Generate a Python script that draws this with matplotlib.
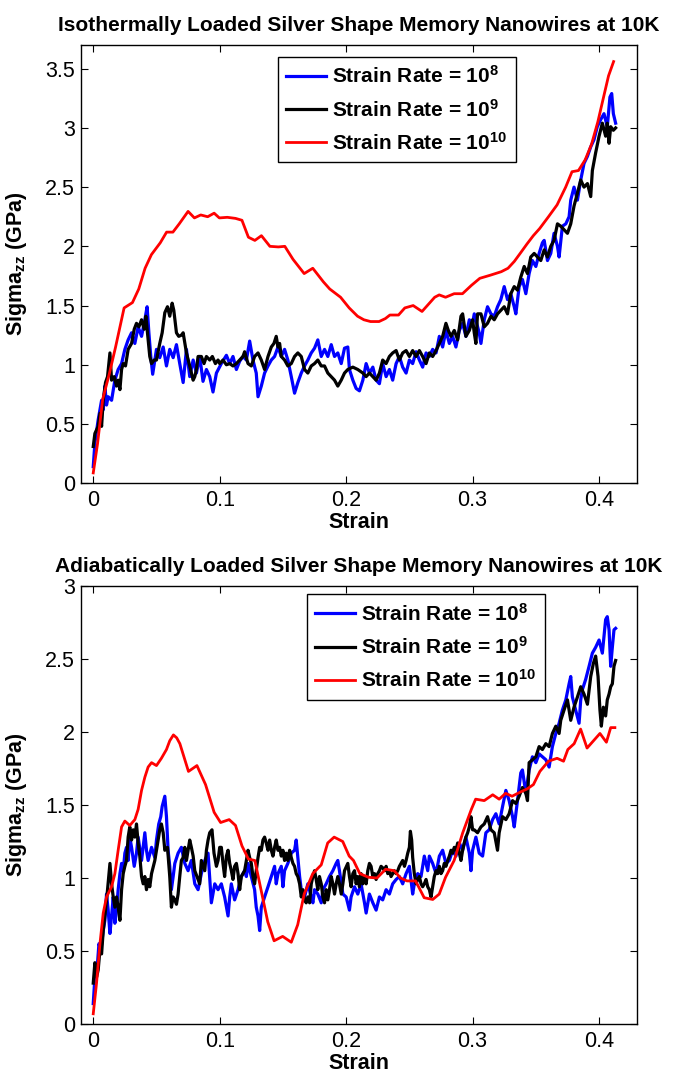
import matplotlib
matplotlib.use("Agg")
import matplotlib.pyplot as plt

plt.rcParams["font.family"] = ["Liberation Sans", "DejaVu Sans"]
plt.rcParams["mathtext.fontset"] = "custom"
plt.rcParams["mathtext.bf"] = "Liberation Sans:bold"
plt.rcParams["mathtext.rm"] = "Liberation Sans:bold"
plt.rcParams["mathtext.default"] = "bf"

# ---- isothermal loading (top panel) ----
iso_strain_1e8 = [0.0, 0.0013, 0.0039, 0.0066, 0.0079, 0.0092, 0.0105, 0.0118, 0.0145, 0.0171, 0.0197, 0.0224,
                  0.025, 0.0276, 0.0303, 0.0329, 0.0355, 0.0382, 0.0408, 0.0426, 0.044, 0.0455, 0.047, 0.05,
                  0.0526, 0.0553, 0.0579, 0.0605, 0.0632, 0.0658, 0.0684, 0.0711, 0.0737, 0.0763, 0.079,
                  0.0816, 0.0842, 0.0868, 0.0895, 0.0921, 0.0947, 0.0974, 0.1013, 0.1053, 0.1079, 0.1105,
                  0.1132, 0.1158, 0.1184, 0.1211, 0.1237, 0.1263, 0.1289, 0.1303, 0.1329, 0.1355, 0.1382,
                  0.1408, 0.1434, 0.1461, 0.1487, 0.1513, 0.1539, 0.1566, 0.1592, 0.1618, 0.1645, 0.1671,
                  0.1697, 0.1724, 0.175, 0.1776, 0.1803, 0.1829, 0.1855, 0.1882, 0.1908, 0.1934, 0.1961,
                  0.1987, 0.2013, 0.2026, 0.2053, 0.2079, 0.2105, 0.2132, 0.2158, 0.2184, 0.2211, 0.2237,
                  0.2263, 0.2289, 0.2316, 0.2342, 0.2368, 0.2395, 0.2421, 0.2447, 0.2474, 0.25, 0.2526,
                  0.2553, 0.2579, 0.2605, 0.2632, 0.2658, 0.2684, 0.2711, 0.2737, 0.2763, 0.2789, 0.2816,
                  0.2842, 0.2868, 0.2895, 0.2921, 0.2947, 0.2974, 0.3, 0.3013, 0.3052, 0.3066, 0.3092,
                  0.3118, 0.3145, 0.3171, 0.3197, 0.3223, 0.325, 0.3276, 0.3302, 0.3329, 0.3342, 0.3368,
                  0.3394, 0.3421, 0.3447, 0.3473, 0.35, 0.3526, 0.3552, 0.3566, 0.3592, 0.3618, 0.3644,
                  0.3671, 0.3684, 0.371, 0.3737, 0.3763, 0.3776, 0.3802, 0.3829, 0.3855, 0.3881, 0.3908,
                  0.3934, 0.396, 0.3986, 0.4013, 0.4039, 0.4065, 0.4086, 0.41, 0.4113, 0.4131]
iso_sigma_1e8 = [0.14, 0.34, 0.535, 0.70, 0.62, 0.82, 0.66, 0.73, 0.70, 0.87, 0.96, 1.01,
                 1.13, 1.21, 1.27, 1.18, 1.32, 1.24, 1.38, 1.49, 1.27, 1.07, 0.92, 1.13,
                 1.06, 1.15, 0.99, 1.13, 1.06, 1.17, 1.01, 0.85, 1.13, 0.90, 1.04,
                 0.93, 1.07, 0.86, 0.96, 0.90, 0.77, 0.93, 1.01, 1.08, 1.01, 1.07,
                 0.96, 1.03, 1.07, 1.04, 1.20, 1.04, 0.93, 0.73, 0.82, 0.93, 0.99,
                 1.04, 1.07, 1.15, 1.07, 1.13, 1.04, 0.90, 0.76, 0.85, 0.93, 0.99,
                 1.04, 1.10, 1.14, 1.21, 1.07, 1.13, 1.07, 1.17, 1.07, 1.10, 1.01,
                 1.14, 1.15, 0.96, 0.87, 0.80, 0.78, 0.87, 1.01, 0.93, 0.98, 0.87,
                 0.84, 1.01, 0.90, 0.96, 0.87, 1.01, 1.07, 0.98, 0.93, 1.04, 1.01,
                 1.11, 1.04, 0.98, 1.10, 1.07, 1.13, 1.10, 1.24, 1.15, 1.29, 1.18,
                 1.24, 1.15, 1.29, 1.35, 1.24, 1.38, 1.35, 1.43, 1.27, 1.18, 1.38,
                 1.49, 1.43, 1.41, 1.49, 1.55, 1.66, 1.55, 1.60, 1.49, 1.43, 1.66,
                 1.72, 1.60, 1.77, 1.88, 1.83, 1.94, 2.03, 2.05, 1.88, 1.94, 2.11,
                 2.0, 1.91, 2.17, 2.19, 2.25, 2.39, 2.50, 2.39, 2.56, 2.70, 2.76,
                 2.84, 2.90, 3.01, 3.07, 3.12, 3.01, 3.26, 3.29, 3.12, 3.04]

iso_strain_1e9 = [0.0, 0.0013, 0.0039, 0.0053, 0.0066, 0.0079, 0.0097, 0.0113, 0.0132, 0.0145, 0.0166, 0.0184,
                  0.0197, 0.0211, 0.0224, 0.0237, 0.0255, 0.0276, 0.0303, 0.0324, 0.0342, 0.0361, 0.0382,
                  0.0403, 0.0416, 0.0434, 0.0447, 0.0461, 0.0482, 0.05, 0.0526, 0.0545, 0.0566, 0.0587,
                  0.0605, 0.0624, 0.0637, 0.0658, 0.0676, 0.0697, 0.0711, 0.0737, 0.0763, 0.079, 0.0803,
                  0.0816, 0.0829, 0.0855, 0.0876, 0.0895, 0.0921, 0.0942, 0.0966, 0.0987, 0.1, 0.1026,
                  0.1053, 0.1079, 0.1105, 0.1132, 0.1158, 0.1184, 0.1197, 0.1224, 0.125, 0.1276, 0.1303,
                  0.1329, 0.1355, 0.1382, 0.1408, 0.1429, 0.1447, 0.1461, 0.1474, 0.1487, 0.1513, 0.1539,
                  0.1566, 0.1592, 0.1618, 0.1645, 0.1671, 0.1697, 0.1724, 0.175, 0.1776, 0.1803, 0.1829,
                  0.1855, 0.1882, 0.1908, 0.1934, 0.1961, 0.1987, 0.2013, 0.2053, 0.2092, 0.2132, 0.2158,
                  0.2184, 0.2211, 0.2237, 0.2263, 0.2289, 0.2316, 0.2342, 0.2368, 0.2395, 0.2421, 0.2447,
                  0.2474, 0.25, 0.2526, 0.2553, 0.2579, 0.2605, 0.2632, 0.2658, 0.2684, 0.2711, 0.2737,
                  0.2763, 0.2789, 0.2808, 0.2829, 0.2855, 0.2882, 0.2908, 0.2921, 0.2947, 0.2974, 0.3,
                  0.3013, 0.3026, 0.3039, 0.3066, 0.3092, 0.3118, 0.3145, 0.3171, 0.3197, 0.3223, 0.325,
                  0.3276, 0.3302, 0.3329, 0.3355, 0.3381, 0.3408, 0.3434, 0.346, 0.3487, 0.3513, 0.3539,
                  0.3566, 0.3592, 0.3618, 0.3644, 0.3671, 0.3697, 0.3723, 0.375, 0.3776, 0.3802, 0.3829,
                  0.3855, 0.3881, 0.3908, 0.3934, 0.3947, 0.3973, 0.4, 0.4026, 0.4052, 0.4065, 0.4079,
                  0.4092, 0.4113, 0.4131]
iso_sigma_1e9 = [0.31, 0.42, 0.48, 0.59, 0.48, 0.70, 0.85, 0.90, 1.10, 0.87, 0.90, 0.82,
                 0.87, 0.79, 0.96, 1.01, 0.99, 1.13, 1.18, 1.30, 1.35, 1.32, 1.38,
                 1.30, 1.41, 1.21, 1.07, 1.01, 1.04, 1.04, 1.18, 1.27, 1.44, 1.49,
                 1.41, 1.52, 1.46, 1.27, 1.24, 1.25, 1.27, 1.10, 0.99, 0.87, 0.90,
                 0.96, 1.07, 1.07, 1.01, 1.07, 1.04, 1.07, 1.01, 1.04, 1.01, 1.04,
                 1.00, 1.01, 0.99, 1.01, 1.04, 1.07, 1.11, 1.01, 0.99, 1.07, 1.10,
                 1.04, 0.96, 1.07, 1.15, 1.18, 1.24, 1.15, 1.18, 1.07, 1.04, 0.99,
                 1.01, 1.07, 1.10, 1.07, 0.96, 0.93, 0.99, 1.01, 1.04, 0.99, 0.99,
                 0.93, 0.90, 0.87, 0.82, 0.87, 0.93, 0.96, 0.98, 0.96, 0.93, 0.90,
                 0.93, 0.90, 0.87, 0.93, 1.04, 1.01, 1.07, 1.10, 1.12, 1.04, 1.10,
                 1.12, 1.07, 1.12, 1.07, 1.12, 1.07, 1.01, 1.10, 1.07, 1.12, 1.18,
                 1.24, 1.35, 1.29, 1.24, 1.29, 1.21, 1.41, 1.43, 1.24, 1.29, 1.38,
                 1.27, 1.18, 1.43, 1.43, 1.32, 1.35, 1.41, 1.38, 1.43, 1.46, 1.49,
                 1.43, 1.60, 1.66, 1.63, 1.74, 1.83, 1.77, 1.91, 1.94, 1.91, 1.88,
                 1.97, 1.91, 2.0, 2.05, 2.19, 2.17, 2.14, 2.11, 2.19, 2.34, 2.45,
                 2.56, 2.50, 2.53, 2.42, 2.64, 2.79, 2.93, 3.04, 2.93, 3.04, 2.87,
                 3.01, 2.98, 3.0]

iso_strain_1e10 = [0.0, 0.0034, 0.0075, 0.0125, 0.0176, 0.0244, 0.031, 0.036, 0.041, 0.046, 0.053, 0.058,
                   0.063, 0.068, 0.075, 0.080, 0.085, 0.0905, 0.0956, 0.0997, 0.106, 0.1125, 0.1176, 0.1227,
                   0.1278, 0.133, 0.1397, 0.1464, 0.1515, 0.158, 0.1668, 0.1736, 0.182, 0.187, 0.1956,
                   0.2024, 0.209, 0.214, 0.2193, 0.226, 0.231, 0.2346, 0.2414, 0.2464, 0.253, 0.26, 0.265,
                   0.27, 0.2736, 0.2786, 0.2854, 0.292, 0.299, 0.3057, 0.3142, 0.3227, 0.328, 0.333, 0.338,
                   0.343, 0.348, 0.353, 0.36, 0.3668, 0.3736, 0.3786, 0.3837, 0.389, 0.394, 0.399, 0.404,
                   0.4075, 0.4115]
iso_sigma_1e10 = [0.087, 0.334, 0.71, 0.915, 1.147, 1.48, 1.525, 1.64, 1.815, 1.93, 2.03, 2.12,
                  2.12, 2.19, 2.295, 2.24, 2.265, 2.25, 2.28, 2.24, 2.245, 2.236, 2.22, 2.077,
                  2.05, 2.09, 2.0, 1.995, 2.0, 1.89, 1.77, 1.815, 1.70, 1.64, 1.57,
                  1.48, 1.41, 1.38, 1.365, 1.365, 1.39, 1.42, 1.42, 1.48, 1.50, 1.45, 1.51,
                  1.57, 1.59, 1.57, 1.60, 1.60, 1.67, 1.73, 1.757, 1.786, 1.815, 1.873, 1.946,
                  2.02, 2.09, 2.15, 2.25, 2.35, 2.50, 2.63, 2.64, 2.73, 2.86, 3.05, 3.28,
                  3.44, 3.56]

# ---- adiabatic loading (bottom panel) ----
adi_strain_1e8 = [0.0, 0.0013, 0.0034, 0.0045, 0.0061, 0.0079, 0.0092, 0.0105, 0.0118, 0.0132, 0.0145, 0.0158,
                  0.0171, 0.0184, 0.0197, 0.0211, 0.0224, 0.0237, 0.025, 0.0263, 0.0276, 0.0289, 0.0303,
                  0.0324, 0.0342, 0.0355, 0.0382, 0.0408, 0.0421, 0.0434, 0.0461, 0.0487, 0.05, 0.0518,
                  0.0534, 0.0545, 0.0566, 0.0579, 0.0592, 0.0605, 0.0618, 0.0632, 0.0645, 0.0671, 0.0697,
                  0.0724, 0.075, 0.0776, 0.0803, 0.0829, 0.0855, 0.0882, 0.0908, 0.0934, 0.0961, 0.0987,
                  0.1013, 0.1039, 0.1066, 0.1079, 0.1092, 0.1118, 0.1145, 0.1171, 0.1197, 0.1211, 0.1224,
                  0.125, 0.1276, 0.1289, 0.1303, 0.1316, 0.1329, 0.1355, 0.1382, 0.1408, 0.1434, 0.1447,
                  0.1461, 0.1487, 0.15, 0.1513, 0.1539, 0.1566, 0.1592, 0.1605, 0.1618, 0.1632, 0.1645,
                  0.1671, 0.1697, 0.1724, 0.1737, 0.175, 0.1776, 0.1803, 0.1816, 0.1842, 0.1868, 0.1895,
                  0.1921, 0.1934, 0.1947, 0.1974, 0.2, 0.2026, 0.2039, 0.2066, 0.2092, 0.2118, 0.2145,
                  0.2158, 0.2184, 0.2211, 0.2237, 0.2263, 0.2289, 0.2316, 0.2342, 0.2368, 0.2395, 0.2421,
                  0.2447, 0.2474, 0.25, 0.2526, 0.2539, 0.2566, 0.2592, 0.2618, 0.2645, 0.2658, 0.2684,
                  0.2711, 0.2737, 0.2763, 0.2789, 0.2816, 0.2842, 0.2868, 0.2895, 0.2921, 0.2947, 0.2974,
                  0.2987, 0.3, 0.3026, 0.3052, 0.3079, 0.3105, 0.3131, 0.3158, 0.3184, 0.321, 0.3237,
                  0.3263, 0.3289, 0.3316, 0.3329, 0.3355, 0.3381, 0.3394, 0.3421, 0.3447, 0.3473, 0.35,
                  0.3526, 0.3552, 0.3579, 0.3605, 0.3631, 0.3658, 0.3684, 0.371, 0.3737, 0.3763, 0.3776,
                  0.3789, 0.3815, 0.3842, 0.3855, 0.3868, 0.3894, 0.3921, 0.3947, 0.3973, 0.4, 0.4026,
                  0.4052, 0.4065, 0.4079, 0.4092, 0.4105, 0.4118, 0.4131]
adi_sigma_1e8 = [0.14, 0.32, 0.42, 0.55, 0.51, 0.64, 0.71, 0.89, 0.78, 0.62, 0.74, 0.87,
                 0.69, 0.78, 0.92, 1.03, 1.10, 1.05, 1.17, 1.21, 1.12, 1.28, 1.21,
                 1.08, 1.17, 1.28, 1.12, 1.31, 1.19, 1.12, 1.21, 1.14, 1.26, 1.37,
                 1.42, 1.49, 1.56, 1.42, 1.19, 1.08, 0.92, 1.01, 1.10, 1.17, 1.21,
                 1.10, 1.05, 1.12, 0.96, 0.92, 1.03, 1.12, 1.17, 0.83, 0.96, 0.92,
                 0.96, 0.87, 0.74, 0.87, 0.96, 0.85, 0.92, 1.01, 1.05, 1.01, 1.10,
                 1.01, 0.92, 0.80, 0.74, 0.64, 0.80, 0.87, 0.94, 1.01, 1.08, 0.96,
                 1.03, 1.08, 0.94, 1.05, 1.10, 1.17, 1.19, 1.26, 1.14, 1.01, 0.92,
                 0.87, 0.96, 0.87, 0.83, 0.92, 0.89, 0.83, 0.92, 0.96, 1.01, 1.05,
                 1.10, 1.12, 1.05, 0.89, 0.87, 0.78, 0.87, 0.94, 0.89, 0.96, 0.83,
                 0.76, 0.89, 0.83, 0.78, 0.87, 0.85, 0.92, 0.89, 0.96, 0.99, 1.01,
                 0.96, 1.03, 1.08, 0.89, 0.96, 1.03, 1.01, 1.15, 1.05, 1.15, 1.10,
                 1.03, 1.15, 1.19, 1.10, 1.12, 1.19, 1.15, 1.24, 1.19, 1.28, 1.17,
                 1.05, 1.19, 1.28, 1.17, 1.15, 1.31, 1.33, 1.40, 1.44, 1.37, 1.49,
                 1.60, 1.53, 1.42, 1.35, 1.53, 1.72, 1.74, 1.58, 1.74, 1.83, 1.79,
                 1.85, 1.83, 1.81, 1.76, 1.90, 1.99, 2.06, 2.15, 2.22, 2.33, 2.38,
                 2.24, 2.15, 2.06, 2.22, 2.29, 2.36, 2.45, 2.54, 2.58, 2.63, 2.54,
                 2.77, 2.79, 2.70, 2.45, 2.58, 2.70, 2.71]

adi_strain_1e9 = [0.0, 0.0013, 0.0026, 0.0039, 0.0053, 0.0066, 0.0079, 0.0097, 0.0113, 0.0132, 0.0145, 0.0158,
                  0.0171, 0.0184, 0.0197, 0.0211, 0.0224, 0.0237, 0.025, 0.0263, 0.0276, 0.0289, 0.0303,
                  0.0316, 0.0329, 0.0342, 0.0355, 0.0368, 0.0382, 0.0395, 0.0408, 0.0421, 0.0434, 0.0447,
                  0.0461, 0.0487, 0.0513, 0.0526, 0.0539, 0.0553, 0.0566, 0.0587, 0.0605, 0.0618, 0.0632,
                  0.0645, 0.0658, 0.0671, 0.0684, 0.0697, 0.0711, 0.0724, 0.0737, 0.075, 0.0763, 0.0776,
                  0.079, 0.0803, 0.0829, 0.0842, 0.0855, 0.0882, 0.0895, 0.0908, 0.0921, 0.0939, 0.0955,
                  0.0974, 0.0987, 0.1, 0.1013, 0.1026, 0.1039, 0.1053, 0.1066, 0.1079, 0.1092, 0.1105,
                  0.1118, 0.1132, 0.1145, 0.1158, 0.1171, 0.1197, 0.1211, 0.1224, 0.1237, 0.125, 0.1263,
                  0.1276, 0.1289, 0.1303, 0.1316, 0.1329, 0.1342, 0.1355, 0.1368, 0.1382, 0.1395, 0.1408,
                  0.1421, 0.1434, 0.1447, 0.1461, 0.1474, 0.1487, 0.15, 0.1513, 0.1526, 0.1539, 0.1553,
                  0.1566, 0.1579, 0.1592, 0.1605, 0.1618, 0.1632, 0.1645, 0.1658, 0.1671, 0.1684, 0.1697,
                  0.1711, 0.1724, 0.1737, 0.175, 0.1763, 0.1776, 0.1789, 0.1803, 0.1816, 0.1829, 0.1842,
                  0.1855, 0.1868, 0.1882, 0.1895, 0.1908, 0.1921, 0.1934, 0.1947, 0.1961, 0.1974, 0.1987,
                  0.2013, 0.2026, 0.2039, 0.2053, 0.2066, 0.2079, 0.2092, 0.2105, 0.2118, 0.2132, 0.2145,
                  0.2158, 0.2171, 0.2184, 0.2197, 0.2211, 0.2224, 0.2237, 0.225, 0.2263, 0.2276, 0.2289,
                  0.2303, 0.2316, 0.2329, 0.2342, 0.2355, 0.2368, 0.2382, 0.2395, 0.2408, 0.2421, 0.2434,
                  0.2447, 0.2461, 0.2474, 0.2487, 0.25, 0.2508, 0.2518, 0.2526, 0.2539, 0.2553, 0.2566,
                  0.2579, 0.2592, 0.2605, 0.2618, 0.2632, 0.2645, 0.2658, 0.2671, 0.2684, 0.2697, 0.2711,
                  0.2724, 0.2737, 0.275, 0.2763, 0.2776, 0.2789, 0.2803, 0.2816, 0.2829, 0.2842, 0.2855,
                  0.2868, 0.2882, 0.2895, 0.2908, 0.2921, 0.2934, 0.2947, 0.2961, 0.2974, 0.2987, 0.3,
                  0.3013, 0.3039, 0.3066, 0.3092, 0.3118, 0.3145, 0.3171, 0.3197, 0.321, 0.3237, 0.3263,
                  0.3289, 0.3316, 0.3342, 0.3368, 0.3394, 0.3421, 0.3434, 0.3447, 0.3473, 0.35, 0.3526,
                  0.3552, 0.3579, 0.3605, 0.3631, 0.3658, 0.3684, 0.3697, 0.3723, 0.375, 0.3776, 0.3802,
                  0.3829, 0.3855, 0.3881, 0.3908, 0.3934, 0.3955, 0.3973, 0.3992, 0.4007, 0.4018, 0.4034,
                  0.4052, 0.4065, 0.4079, 0.4092, 0.4105, 0.4118, 0.4131]
adi_sigma_1e9 = [0.28, 0.42, 0.32, 0.37, 0.51, 0.48, 0.64, 0.78, 0.92, 1.10, 0.96, 0.87,
                 0.80, 0.87, 0.80, 0.71, 0.92, 1.03, 1.08, 1.12, 1.28, 1.35, 1.26,
                 1.33, 1.28, 1.37, 1.24, 1.15, 1.01, 0.96, 1.01, 0.92, 0.99, 0.94,
                 1.03, 1.12, 1.26, 1.33, 1.37, 1.31, 1.19, 1.21, 1.01, 0.80, 0.87,
                 0.85, 0.82, 0.89, 1.01, 1.12, 1.14, 1.21, 1.12, 1.19, 1.26, 1.21,
                 1.15, 1.05, 0.99, 0.96, 1.12, 1.05, 1.19, 1.26, 1.31, 1.33, 1.17,
                 1.08, 1.12, 1.21, 1.21, 1.10, 1.01, 1.15, 1.19, 1.10, 1.05, 0.99,
                 1.08, 1.10, 1.03, 0.92, 1.01, 1.05, 1.12, 1.19, 1.14, 1.10, 1.01,
                 0.96, 1.05, 1.14, 1.21, 1.19, 1.26, 1.28, 1.24, 1.19, 1.26, 1.19,
                 1.15, 1.21, 1.26, 1.19, 1.21, 1.15, 1.19, 1.12, 1.17, 1.12, 1.19,
                 1.14, 1.10, 1.08, 1.03, 1.01, 0.96, 0.87, 0.92, 0.85, 0.83, 0.87,
                 0.83, 0.96, 1.01, 1.05, 0.99, 0.92, 1.01, 0.96, 0.87, 0.83, 0.92,
                 0.85, 0.92, 1.01, 0.96, 0.89, 0.96, 1.01, 0.96, 0.89, 0.96, 1.05,
                 1.10, 1.01, 0.94, 1.03, 1.05, 0.96, 1.01, 0.94, 1.03, 0.96, 1.01,
                 0.96, 1.05, 1.10, 1.08, 1.01, 1.03, 0.99, 1.03, 1.05, 1.08, 1.07,
                 1.05, 1.08, 1.03, 1.05, 1.01, 1.03, 1.05, 1.03, 1.05, 1.08, 1.10,
                 1.12, 1.08, 1.12, 1.17, 1.21, 1.32, 1.26, 1.14, 1.03, 0.96, 0.99,
                 1.01, 0.96, 0.94, 0.96, 0.99, 0.94, 0.92, 0.87, 0.94, 1.01, 1.05,
                 1.03, 1.08, 1.03, 1.05, 1.10, 1.08, 1.12, 1.15, 1.19, 1.17, 1.21,
                 1.19, 1.24, 1.17, 1.12, 1.19, 1.24, 1.28, 1.31, 1.35, 1.42, 1.33,
                 1.33, 1.31, 1.35, 1.37, 1.42, 1.33, 1.31, 1.19, 1.31, 1.42, 1.40,
                 1.44, 1.53, 1.51, 1.56, 1.62, 1.58, 1.53, 1.79, 1.81, 1.83, 1.90,
                 1.88, 1.92, 1.90, 1.99, 2.04, 1.99, 2.08, 2.15, 2.22, 2.08, 2.17,
                 2.24, 2.31, 2.26, 2.19, 2.38, 2.47, 2.52, 2.38, 2.15, 2.04, 2.17,
                 2.11, 2.22, 2.26, 2.31, 2.33, 2.45, 2.49]

adi_strain_1e10 = [0.0, 0.0026, 0.0053, 0.0079, 0.0105, 0.0145, 0.0171, 0.0197, 0.0224, 0.025, 0.0289, 0.0329,
                   0.0355, 0.0382, 0.0408, 0.0434, 0.0461, 0.05, 0.0539, 0.0579, 0.0605, 0.0634, 0.066,
                   0.0685, 0.0753, 0.082, 0.0888, 0.0956, 0.1007, 0.1075, 0.1125, 0.1176, 0.1227, 0.1278,
                   0.1329, 0.138, 0.143, 0.1498, 0.1566, 0.1617, 0.1668, 0.1736, 0.1803, 0.1854, 0.1905,
                   0.1973, 0.2024, 0.2058, 0.2108, 0.2176, 0.2244, 0.2312, 0.238, 0.243, 0.2481, 0.2549,
                   0.2617, 0.2685, 0.2736, 0.2786, 0.2854, 0.2922, 0.299, 0.3024, 0.3092, 0.3159, 0.321,
                   0.3261, 0.3312, 0.338, 0.3431, 0.3481, 0.3532, 0.36, 0.3668, 0.3719, 0.3753, 0.3803,
                   0.3854, 0.3905, 0.3956, 0.4007, 0.4058, 0.4092, 0.4125]
adi_sigma_1e10 = [0.07, 0.28, 0.55, 0.76, 0.87, 0.94, 1.03, 1.19, 1.35, 1.39, 1.36, 1.40,
                  1.47, 1.60, 1.69, 1.76, 1.79, 1.77, 1.82, 1.88, 1.94, 1.98, 1.96,
                  1.92, 1.73, 1.77, 1.64, 1.45, 1.38, 1.40, 1.36, 1.22, 1.13, 1.12,
                  0.91, 0.70, 0.57, 0.60, 0.56, 0.68, 0.89, 1.03, 1.09, 1.24, 1.28,
                  1.25, 1.15, 1.12, 1.03, 1.005, 1.0, 1.06, 1.05, 1.0, 0.98, 0.98,
                  0.865, 0.853, 0.89, 1.005, 1.12, 1.31, 1.47, 1.54, 1.53, 1.57, 1.54,
                  1.58, 1.56, 1.59, 1.61, 1.64, 1.73, 1.80, 1.82, 1.80, 1.88, 1.92,
                  2.02, 1.89, 1.94, 1.99, 1.93, 2.03, 2.03]

labels = [r"Strain Rate = 10$^{8}$", r"Strain Rate = 10$^{9}$", r"Strain Rate = 10$^{10}$"]
colors = ["#0000ff", "#000000", "#ff0000"]
widths = [2.3, 2.3, 2.0]

W, H = 673, 1076
fig = plt.figure(figsize=(W / 100, H / 100), dpi=100)

panels = [
    dict(rect=[80.6 / W, 1 - 483.2 / H, 556.4 / W, 438.2 / H],
         title="Isothermally Loaded Silver Shape Memory Nanowires at 10K",
         series=[(iso_strain_1e8, iso_sigma_1e8), (iso_strain_1e9, iso_sigma_1e9),
                 (iso_strain_1e10, iso_sigma_1e10)],
         ylim=(0, 3.7), yticks=[0, 0.5, 1, 1.5, 2, 2.5, 3, 3.5],
         legend_anchor=(0.355, 0.973)),
    dict(rect=[80.6 / W, 1 - 1024 / H, 556.4 / W, 438 / H],
         title="Adiabatically Loaded Silver Shape Memory Nanowires at 10K",
         series=[(adi_strain_1e8, adi_sigma_1e8), (adi_strain_1e9, adi_sigma_1e9),
                 (adi_strain_1e10, adi_sigma_1e10)],
         ylim=(0, 3), yticks=[0, 0.5, 1, 1.5, 2, 2.5, 3],
         legend_anchor=(0.407, 0.981)),
]

for p in panels:
    ax = fig.add_axes(p["rect"])
    for (xs, ys), c, lw, lab in zip(p["series"], colors, widths, labels):
        ax.plot(xs, ys, color=c, linewidth=lw, label=lab)

    ax.set_xlim(-0.01, 0.43)
    ax.set_ylim(*p["ylim"])
    ax.set_xticks([0, 0.1, 0.2, 0.3, 0.4])
    ax.set_xticklabels(["0", "0.1", "0.2", "0.3", "0.4"])
    ax.set_yticks(p["yticks"])
    ax.set_yticklabels([f"{v:g}" for v in p["yticks"]])
    ax.tick_params(direction="in", top=True, right=True, length=5, width=0.8,
                   labelsize=15.5)
    ax.tick_params(axis="x", pad=5)
    ax.tick_params(axis="y", pad=4)
    for s in ax.spines.values():
        s.set_linewidth(1.0)

    ax.set_title(p["title"], fontsize=15, fontweight="bold", pad=10)
    ax.set_xlabel("Strain", fontsize=15.5, fontweight="bold")
    ax.xaxis.set_label_coords(0.5, -0.066)
    ax.set_ylabel(r"Sigma$_{zz}$ (GPa)", fontsize=15.5, fontweight="bold")
    ax.yaxis.set_label_coords(-0.092, 0.5)

    leg = ax.legend(loc="upper left", bbox_to_anchor=p["legend_anchor"],
                    prop={"weight": "bold", "size": 15}, frameon=True, fancybox=False,
                    edgecolor="black", framealpha=1, handlelength=1.9, handletextpad=0.3,
                    borderpad=0.4, labelspacing=0.55, borderaxespad=0)
    leg.get_frame().set_linewidth(1.0)

fig.savefig("out.png", dpi=100)
